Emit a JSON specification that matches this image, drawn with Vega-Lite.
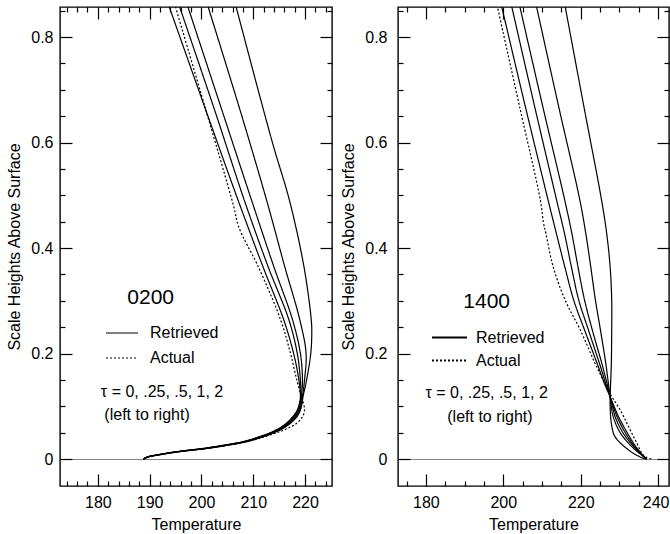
{
  "$schema": "https://vega.github.io/schema/vega-lite/v6.json",
  "padding": {"left": 6, "top": 1, "right": 0, "bottom": 0},
  "spacing": 6,
  "config": {
    "font": "Liberation Sans",
    "view": {"stroke": "black", "strokeWidth": 1.4},
    "axis": {"domain": false, "labelFont": "Liberation Sans", "titleFont": "Liberation Sans", "labelFontSize": 16, "titleFontSize": 16, "titleFontWeight": "normal", "labelColor": "black", "titleColor": "black", "tickColor": "black", "tickWidth": 1.2, "labelFlush": false, "labelOverlap": false, "grid": false}
  },
  "datasets": {
    "night": [
      {"s":"R1","type":"Retrieved","h":0,"T":188.8},{"s":"R1","type":"Retrieved","h":0.004,"T":189.5},{"s":"R1","type":"Retrieved","h":0.008,"T":191.4},{"s":"R1","type":"Retrieved","h":0.012,"T":193.8},{"s":"R1","type":"Retrieved","h":0.016,"T":196.7},{"s":"R1","type":"Retrieved","h":0.02,"T":200.1},{"s":"R1","type":"Retrieved","h":0.026,"T":204.1},{"s":"R1","type":"Retrieved","h":0.033,"T":207.9},{"s":"R1","type":"Retrieved","h":0.04,"T":210.4},{"s":"R1","type":"Retrieved","h":0.049,"T":213.0},{"s":"R1","type":"Retrieved","h":0.058,"T":214.9},{"s":"R1","type":"Retrieved","h":0.068,"T":216.4},{"s":"R1","type":"Retrieved","h":0.08,"T":217.6},{"s":"R1","type":"Retrieved","h":0.093,"T":218.5},{"s":"R1","type":"Retrieved","h":0.105,"T":218.9},{"s":"R1","type":"Retrieved","h":0.118,"T":219.1},{"s":"R1","type":"Retrieved","h":0.15,"T":218.8},{"s":"R1","type":"Retrieved","h":0.2,"T":217.8},{"s":"R1","type":"Retrieved","h":0.2635,"T":215.9},{"s":"R1","type":"Retrieved","h":0.364,"T":211.9},{"s":"R1","type":"Retrieved","h":0.49,"T":207.1},{"s":"R1","type":"Retrieved","h":0.66,"T":200.9},{"s":"R1","type":"Retrieved","h":0.857,"T":193.8},
      {"s":"R2","type":"Retrieved","h":0,"T":188.8},{"s":"R2","type":"Retrieved","h":0.004,"T":189.5},{"s":"R2","type":"Retrieved","h":0.008,"T":191.5},{"s":"R2","type":"Retrieved","h":0.012,"T":193.9},{"s":"R2","type":"Retrieved","h":0.016,"T":196.8},{"s":"R2","type":"Retrieved","h":0.02,"T":200.3},{"s":"R2","type":"Retrieved","h":0.026,"T":204.3},{"s":"R2","type":"Retrieved","h":0.033,"T":208.1},{"s":"R2","type":"Retrieved","h":0.04,"T":210.6},{"s":"R2","type":"Retrieved","h":0.049,"T":213.2},{"s":"R2","type":"Retrieved","h":0.058,"T":215.1},{"s":"R2","type":"Retrieved","h":0.068,"T":216.6},{"s":"R2","type":"Retrieved","h":0.08,"T":217.8},{"s":"R2","type":"Retrieved","h":0.093,"T":218.6},{"s":"R2","type":"Retrieved","h":0.105,"T":219.0},{"s":"R2","type":"Retrieved","h":0.118,"T":219.2},{"s":"R2","type":"Retrieved","h":0.15,"T":219.1},{"s":"R2","type":"Retrieved","h":0.2,"T":218.5},{"s":"R2","type":"Retrieved","h":0.2635,"T":216.9},{"s":"R2","type":"Retrieved","h":0.364,"T":212.9},{"s":"R2","type":"Retrieved","h":0.49,"T":208.3},{"s":"R2","type":"Retrieved","h":0.66,"T":202.6},{"s":"R2","type":"Retrieved","h":0.857,"T":195.8},
      {"s":"R3","type":"Retrieved","h":0,"T":188.8},{"s":"R3","type":"Retrieved","h":0.004,"T":189.6},{"s":"R3","type":"Retrieved","h":0.008,"T":191.6},{"s":"R3","type":"Retrieved","h":0.012,"T":194.0},{"s":"R3","type":"Retrieved","h":0.016,"T":197.0},{"s":"R3","type":"Retrieved","h":0.02,"T":200.5},{"s":"R3","type":"Retrieved","h":0.026,"T":204.5},{"s":"R3","type":"Retrieved","h":0.033,"T":208.3},{"s":"R3","type":"Retrieved","h":0.04,"T":210.8},{"s":"R3","type":"Retrieved","h":0.049,"T":213.4},{"s":"R3","type":"Retrieved","h":0.058,"T":215.3},{"s":"R3","type":"Retrieved","h":0.068,"T":216.8},{"s":"R3","type":"Retrieved","h":0.08,"T":218.0},{"s":"R3","type":"Retrieved","h":0.093,"T":218.8},{"s":"R3","type":"Retrieved","h":0.105,"T":219.1},{"s":"R3","type":"Retrieved","h":0.118,"T":219.3},{"s":"R3","type":"Retrieved","h":0.15,"T":219.5},{"s":"R3","type":"Retrieved","h":0.2,"T":219.1},{"s":"R3","type":"Retrieved","h":0.2635,"T":217.6},{"s":"R3","type":"Retrieved","h":0.364,"T":214.0},{"s":"R3","type":"Retrieved","h":0.49,"T":209.7},{"s":"R3","type":"Retrieved","h":0.66,"T":204.0},{"s":"R3","type":"Retrieved","h":0.857,"T":197.4},
      {"s":"R4","type":"Retrieved","h":0,"T":188.8},{"s":"R4","type":"Retrieved","h":0.004,"T":189.6},{"s":"R4","type":"Retrieved","h":0.008,"T":191.7},{"s":"R4","type":"Retrieved","h":0.012,"T":194.1},{"s":"R4","type":"Retrieved","h":0.016,"T":197.2},{"s":"R4","type":"Retrieved","h":0.02,"T":200.7},{"s":"R4","type":"Retrieved","h":0.026,"T":204.7},{"s":"R4","type":"Retrieved","h":0.033,"T":208.5},{"s":"R4","type":"Retrieved","h":0.04,"T":211.0},{"s":"R4","type":"Retrieved","h":0.049,"T":213.6},{"s":"R4","type":"Retrieved","h":0.058,"T":215.5},{"s":"R4","type":"Retrieved","h":0.068,"T":217.0},{"s":"R4","type":"Retrieved","h":0.08,"T":218.2},{"s":"R4","type":"Retrieved","h":0.093,"T":219.0},{"s":"R4","type":"Retrieved","h":0.105,"T":219.3},{"s":"R4","type":"Retrieved","h":0.118,"T":219.5},{"s":"R4","type":"Retrieved","h":0.15,"T":219.9},{"s":"R4","type":"Retrieved","h":0.2,"T":220.2},{"s":"R4","type":"Retrieved","h":0.2635,"T":219.0},{"s":"R4","type":"Retrieved","h":0.364,"T":216.1},{"s":"R4","type":"Retrieved","h":0.49,"T":212.6},{"s":"R4","type":"Retrieved","h":0.66,"T":207.5},{"s":"R4","type":"Retrieved","h":0.857,"T":201.3},
      {"s":"R5","type":"Retrieved","h":0,"T":188.8},{"s":"R5","type":"Retrieved","h":0.004,"T":189.7},{"s":"R5","type":"Retrieved","h":0.008,"T":191.8},{"s":"R5","type":"Retrieved","h":0.012,"T":194.2},{"s":"R5","type":"Retrieved","h":0.016,"T":197.4},{"s":"R5","type":"Retrieved","h":0.02,"T":200.9},{"s":"R5","type":"Retrieved","h":0.026,"T":204.9},{"s":"R5","type":"Retrieved","h":0.033,"T":208.7},{"s":"R5","type":"Retrieved","h":0.04,"T":211.2},{"s":"R5","type":"Retrieved","h":0.049,"T":213.8},{"s":"R5","type":"Retrieved","h":0.058,"T":215.7},{"s":"R5","type":"Retrieved","h":0.068,"T":217.2},{"s":"R5","type":"Retrieved","h":0.08,"T":218.4},{"s":"R5","type":"Retrieved","h":0.093,"T":219.1},{"s":"R5","type":"Retrieved","h":0.105,"T":219.4},{"s":"R5","type":"Retrieved","h":0.118,"T":219.6},{"s":"R5","type":"Retrieved","h":0.15,"T":220.3},{"s":"R5","type":"Retrieved","h":0.2,"T":221.1},{"s":"R5","type":"Retrieved","h":0.24,"T":221.3},{"s":"R5","type":"Retrieved","h":0.2635,"T":221.2},{"s":"R5","type":"Retrieved","h":0.364,"T":219.8},{"s":"R5","type":"Retrieved","h":0.49,"T":217.0},{"s":"R5","type":"Retrieved","h":0.6,"T":213.7},{"s":"R5","type":"Retrieved","h":0.857,"T":206.7},
      {"s":"A","type":"Actual","h":0,"T":189.0},{"s":"A","type":"Actual","h":0.004,"T":189.8},{"s":"A","type":"Actual","h":0.008,"T":191.8},{"s":"A","type":"Actual","h":0.012,"T":194.3},{"s":"A","type":"Actual","h":0.016,"T":197.4},{"s":"A","type":"Actual","h":0.02,"T":200.8},{"s":"A","type":"Actual","h":0.026,"T":205.0},{"s":"A","type":"Actual","h":0.033,"T":208.8},{"s":"A","type":"Actual","h":0.04,"T":211.4},{"s":"A","type":"Actual","h":0.049,"T":214.2},{"s":"A","type":"Actual","h":0.055,"T":215.9},{"s":"A","type":"Actual","h":0.061,"T":217.2},{"s":"A","type":"Actual","h":0.068,"T":218.4},{"s":"A","type":"Actual","h":0.08,"T":219.5},{"s":"A","type":"Actual","h":0.093,"T":219.9},{"s":"A","type":"Actual","h":0.105,"T":219.7},{"s":"A","type":"Actual","h":0.118,"T":219.3},{"s":"A","type":"Actual","h":0.15,"T":218.4},{"s":"A","type":"Actual","h":0.2,"T":217.2},{"s":"A","type":"Actual","h":0.2635,"T":215.3},{"s":"A","type":"Actual","h":0.364,"T":211.0},{"s":"A","type":"Actual","h":0.44,"T":207.2},{"s":"A","type":"Actual","h":0.48,"T":206.2},{"s":"A","type":"Actual","h":0.66,"T":200.9},{"s":"A","type":"Actual","h":0.857,"T":195.0}
    ],
    "day": [
      {"s":"R1","type":"Retrieved","h":0,"T":237.0},{"s":"R1","type":"Retrieved","h":0.004,"T":236.4},{"s":"R1","type":"Retrieved","h":0.01,"T":235.7},{"s":"R1","type":"Retrieved","h":0.025,"T":234.1},{"s":"R1","type":"Retrieved","h":0.05,"T":232.0},{"s":"R1","type":"Retrieved","h":0.08,"T":229.8},{"s":"R1","type":"Retrieved","h":0.1,"T":228.6},{"s":"R1","type":"Retrieved","h":0.118,"T":227.6},{"s":"R1","type":"Retrieved","h":0.14,"T":226.3},{"s":"R1","type":"Retrieved","h":0.18,"T":224.3},{"s":"R1","type":"Retrieved","h":0.2445,"T":221.0},{"s":"R1","type":"Retrieved","h":0.301,"T":218.2},{"s":"R1","type":"Retrieved","h":0.364,"T":215.9},{"s":"R1","type":"Retrieved","h":0.428,"T":213.7},{"s":"R1","type":"Retrieved","h":0.49,"T":211.6},{"s":"R1","type":"Retrieved","h":0.665,"T":205.8},{"s":"R1","type":"Retrieved","h":0.857,"T":199.6},
      {"s":"R2","type":"Retrieved","h":0,"T":237.0},{"s":"R2","type":"Retrieved","h":0.004,"T":236.4},{"s":"R2","type":"Retrieved","h":0.01,"T":235.6},{"s":"R2","type":"Retrieved","h":0.025,"T":233.8},{"s":"R2","type":"Retrieved","h":0.05,"T":231.5},{"s":"R2","type":"Retrieved","h":0.08,"T":229.4},{"s":"R2","type":"Retrieved","h":0.1,"T":228.4},{"s":"R2","type":"Retrieved","h":0.118,"T":227.6},{"s":"R2","type":"Retrieved","h":0.14,"T":226.6},{"s":"R2","type":"Retrieved","h":0.18,"T":224.9},{"s":"R2","type":"Retrieved","h":0.2445,"T":222.0},{"s":"R2","type":"Retrieved","h":0.301,"T":219.5},{"s":"R2","type":"Retrieved","h":0.364,"T":217.6},{"s":"R2","type":"Retrieved","h":0.428,"T":215.8},{"s":"R2","type":"Retrieved","h":0.49,"T":213.8},{"s":"R2","type":"Retrieved","h":0.665,"T":208.2},{"s":"R2","type":"Retrieved","h":0.857,"T":202.2},
      {"s":"R3","type":"Retrieved","h":0,"T":237.0},{"s":"R3","type":"Retrieved","h":0.004,"T":236.4},{"s":"R3","type":"Retrieved","h":0.01,"T":235.5},{"s":"R3","type":"Retrieved","h":0.025,"T":233.5},{"s":"R3","type":"Retrieved","h":0.05,"T":230.9},{"s":"R3","type":"Retrieved","h":0.08,"T":228.9},{"s":"R3","type":"Retrieved","h":0.1,"T":228.2},{"s":"R3","type":"Retrieved","h":0.118,"T":227.6},{"s":"R3","type":"Retrieved","h":0.14,"T":226.9},{"s":"R3","type":"Retrieved","h":0.18,"T":225.5},{"s":"R3","type":"Retrieved","h":0.2445,"T":223.0},{"s":"R3","type":"Retrieved","h":0.301,"T":221.0},{"s":"R3","type":"Retrieved","h":0.364,"T":219.3},{"s":"R3","type":"Retrieved","h":0.428,"T":217.7},{"s":"R3","type":"Retrieved","h":0.49,"T":215.9},{"s":"R3","type":"Retrieved","h":0.665,"T":210.3},{"s":"R3","type":"Retrieved","h":0.857,"T":204.3},
      {"s":"R4","type":"Retrieved","h":0,"T":237.0},{"s":"R4","type":"Retrieved","h":0.004,"T":236.4},{"s":"R4","type":"Retrieved","h":0.01,"T":235.3},{"s":"R4","type":"Retrieved","h":0.025,"T":233.0},{"s":"R4","type":"Retrieved","h":0.05,"T":230.2},{"s":"R4","type":"Retrieved","h":0.08,"T":228.4},{"s":"R4","type":"Retrieved","h":0.1,"T":227.9},{"s":"R4","type":"Retrieved","h":0.118,"T":227.6},{"s":"R4","type":"Retrieved","h":0.14,"T":227.2},{"s":"R4","type":"Retrieved","h":0.18,"T":226.5},{"s":"R4","type":"Retrieved","h":0.2445,"T":225.1},{"s":"R4","type":"Retrieved","h":0.301,"T":223.8},{"s":"R4","type":"Retrieved","h":0.364,"T":222.6},{"s":"R4","type":"Retrieved","h":0.428,"T":221.3},{"s":"R4","type":"Retrieved","h":0.49,"T":219.8},{"s":"R4","type":"Retrieved","h":0.665,"T":214.4},{"s":"R4","type":"Retrieved","h":0.857,"T":208.6},
      {"s":"R5","type":"Retrieved","h":0,"T":236.8},{"s":"R5","type":"Retrieved","h":0.002,"T":236.0},{"s":"R5","type":"Retrieved","h":0.0057,"T":234.9},{"s":"R5","type":"Retrieved","h":0.01,"T":233.8},{"s":"R5","type":"Retrieved","h":0.02,"T":231.9},{"s":"R5","type":"Retrieved","h":0.03,"T":230.3},{"s":"R5","type":"Retrieved","h":0.042,"T":228.9},{"s":"R5","type":"Retrieved","h":0.05,"T":228.4},{"s":"R5","type":"Retrieved","h":0.074,"T":227.8},{"s":"R5","type":"Retrieved","h":0.1,"T":227.6},{"s":"R5","type":"Retrieved","h":0.118,"T":227.6},{"s":"R5","type":"Retrieved","h":0.14,"T":227.7},{"s":"R5","type":"Retrieved","h":0.18,"T":227.9},{"s":"R5","type":"Retrieved","h":0.2445,"T":228.0},{"s":"R5","type":"Retrieved","h":0.301,"T":228.0},{"s":"R5","type":"Retrieved","h":0.364,"T":227.6},{"s":"R5","type":"Retrieved","h":0.428,"T":226.7},{"s":"R5","type":"Retrieved","h":0.49,"T":225.4},{"s":"R5","type":"Retrieved","h":0.665,"T":220.9},{"s":"R5","type":"Retrieved","h":0.857,"T":216.0},
      {"s":"A","type":"Actual","h":0,"T":238.2},{"s":"A","type":"Actual","h":0.004,"T":236.8},{"s":"A","type":"Actual","h":0.011,"T":235.8},{"s":"A","type":"Actual","h":0.03,"T":234.5},{"s":"A","type":"Actual","h":0.049,"T":233.2},{"s":"A","type":"Actual","h":0.07,"T":231.8},{"s":"A","type":"Actual","h":0.093,"T":230.2},{"s":"A","type":"Actual","h":0.125,"T":227.5},{"s":"A","type":"Actual","h":0.18,"T":223.8},{"s":"A","type":"Actual","h":0.2445,"T":219.9},{"s":"A","type":"Actual","h":0.301,"T":216.0},{"s":"A","type":"Actual","h":0.364,"T":212.9},{"s":"A","type":"Actual","h":0.428,"T":211.0},{"s":"A","type":"Actual","h":0.447,"T":210.4},{"s":"A","type":"Actual","h":0.49,"T":209.6},{"s":"A","type":"Actual","h":0.665,"T":204.3},{"s":"A","type":"Actual","h":0.857,"T":198.5}
    ],
    "one": [{}]
  },
  "resolve": {"scale": {"strokeDash": "independent"}, "legend": {"strokeDash": "independent"}},
  "hconcat": [
    {
      "width": 272, "height": 479,
      "resolve": {"axis": {"x": "independent", "y": "independent"}},
      "layer": [
        {
          "data": {"name": "night"},
          "mark": {"type": "line", "color": "black", "strokeWidth": 1.2, "clip": true, "interpolate": "catmull-rom"},
          "encoding": {
            "x": {"field": "T", "type": "quantitative", "scale": {"domain": [172.7, 225.2], "nice": false, "zero": false},
              "axis": {"orient": "bottom", "title": "Temperature", "values": [174,176,178,180,182,184,186,188,190,192,194,196,198,200,202,204,206,208,210,212,214,216,218,220,222,224],
                "tickSize": {"condition": {"test": "datum.value % 10 === 0", "value": -12}, "value": -5},
                "labelExpr": "datum.value % 10 === 0 ? datum.label : ''", "labelPadding": 20, "titlePadding": -1}},
            "y": {"field": "h", "type": "quantitative", "scale": {"domain": [-0.051, 0.857], "nice": false, "zero": false},
              "axis": {"orient": "left", "title": "Scale Heights Above Surface", "format": ".1~f", "values": [0,0.05,0.1,0.15,0.2,0.25,0.3,0.35,0.4,0.45,0.5,0.55,0.6,0.65,0.7,0.75,0.8,0.85],
                "tickSize": {"condition": {"test": "round(datum.value*20) % 4 === 0", "value": -12}, "value": -5},
                "labelExpr": "round(datum.value*20) % 4 === 0 ? datum.label : ''", "labelPadding": 19, "titlePadding": 8,
                "grid": true, "gridColor": "#888888", "gridWidth": 1.2,
                "gridOpacity": {"condition": {"test": "datum.value === 0", "value": 1}, "value": 0}}},
            "detail": {"field": "s"},
            "order": {"field": "h"},
            "strokeDash": {"field": "type", "type": "nominal", "scale": {"domain": ["Retrieved", "Actual"], "range": [[1, 0], [2, 2]]},
              "legend": {"orient": "none", "legendX": 45, "legendY": 309, "title": null, "symbolType": "stroke", "symbolSize": 1024, "symbolStrokeColor": "black", "symbolStrokeWidth": 1.2, "labelFont": "Liberation Sans", "labelFontSize": 16, "labelColor": "black", "labelOffset": 11, "padding": 0, "rowPadding": 0}}
          }
        },
        {
          "data": {"name": "night"},
          "mark": {"type": "point", "opacity": 0},
          "encoding": {
            "x": {"field": "T", "type": "quantitative", "axis": {"orient": "top", "title": null, "labels": false, "values": [174,176,178,180,182,184,186,188,190,192,194,196,198,200,202,204,206,208,210,212,214,216,218,220,222,224],
              "tickSize": {"condition": {"test": "datum.value % 10 === 0", "value": -12}, "value": -5}}},
            "y": {"field": "h", "type": "quantitative", "axis": {"orient": "right", "title": null, "labels": false, "values": [0,0.05,0.1,0.15,0.2,0.25,0.3,0.35,0.4,0.45,0.5,0.55,0.6,0.65,0.7,0.75,0.8,0.85],
              "tickSize": {"condition": {"test": "round(datum.value*20) % 4 === 0", "value": -12}, "value": -5}}}
          }
        },
        {
          "data": {"name": "one"},
          "mark": {"type": "text", "fontSize": 21, "align": "center", "baseline": "middle", "color": "black"},
          "encoding": {"x": {"datum": 190.2, "axis": null}, "y": {"datum": 0.305, "axis": null}, "text": {"value": "0200"}}
        },
        {
          "data": {"name": "one"},
          "mark": {"type": "text", "fontSize": 16, "align": "center", "baseline": "middle", "color": "black"},
          "encoding": {"x": {"datum": 192.4, "axis": null}, "y": {"datum": 0.1276, "axis": null}, "text": {"value": "τ = 0, .25, .5, 1, 2"}}
        },
        {
          "data": {"name": "one"},
          "mark": {"type": "text", "fontSize": 16, "align": "center", "baseline": "middle", "color": "black"},
          "encoding": {"x": {"datum": 189.5, "axis": null}, "y": {"datum": 0.0834, "axis": null}, "text": {"value": "(left to right)"}}
        }
      ]
    },
    {
      "width": 271, "height": 479,
      "resolve": {"axis": {"x": "independent", "y": "independent"}},
      "layer": [
        {
          "data": {"name": "day"},
          "mark": {"type": "line", "color": "black", "strokeWidth": 1.2, "clip": true, "interpolate": "catmull-rom"},
          "encoding": {
            "x": {"field": "T", "type": "quantitative", "scale": {"domain": [172.8, 242.8], "nice": false, "zero": false},
              "axis": {"orient": "bottom", "title": "Temperature", "values": [175,180,185,190,195,200,205,210,215,220,225,230,235,240],
                "tickSize": {"condition": {"test": "datum.value % 20 === 0", "value": -12}, "value": -5},
                "labelOffset": {"condition": {"test": "datum.value === 240", "value": -2.5}, "value": 0},
                "labelExpr": "datum.value % 20 === 0 ? datum.label : ''", "labelPadding": 20, "titlePadding": -1}},
            "y": {"field": "h", "type": "quantitative", "scale": {"domain": [-0.051, 0.857], "nice": false, "zero": false},
              "axis": {"orient": "left", "title": "Scale Heights Above Surface", "format": ".1~f", "values": [0,0.05,0.1,0.15,0.2,0.25,0.3,0.35,0.4,0.45,0.5,0.55,0.6,0.65,0.7,0.75,0.8,0.85],
                "tickSize": {"condition": {"test": "round(datum.value*20) % 4 === 0", "value": -12}, "value": -5},
                "labelExpr": "round(datum.value*20) % 4 === 0 ? datum.label : ''", "labelPadding": 23, "titlePadding": 8,
                "grid": true, "gridColor": "#888888", "gridWidth": 1.2,
                "gridOpacity": {"condition": {"test": "datum.value === 0", "value": 1}, "value": 0}}},
            "detail": {"field": "s"},
            "order": {"field": "h"},
            "strokeDash": {"field": "type", "type": "nominal", "scale": {"domain": ["Retrieved", "Actual"], "range": [[1, 0], [2, 2]]},
              "legend": {"orient": "none", "legendX": 33, "legendY": 319, "title": null, "symbolType": "stroke", "symbolSize": 1225, "symbolStrokeColor": "black", "symbolStrokeWidth": 1.8, "labelFont": "Liberation Sans", "labelFontSize": 16, "labelColor": "black", "labelOffset": 8, "padding": 0, "rowPadding": 0, "clipHeight": 23}}
          }
        },
        {
          "data": {"name": "day"},
          "mark": {"type": "point", "opacity": 0},
          "encoding": {
            "x": {"field": "T", "type": "quantitative", "axis": {"orient": "top", "title": null, "labels": false, "values": [175,180,185,190,195,200,205,210,215,220,225,230,235,240],
              "tickSize": {"condition": {"test": "datum.value % 20 === 0", "value": -12}, "value": -5}}},
            "y": {"field": "h", "type": "quantitative", "axis": {"orient": "right", "title": null, "labels": false, "values": [0,0.05,0.1,0.15,0.2,0.25,0.3,0.35,0.4,0.45,0.5,0.55,0.6,0.65,0.7,0.75,0.8,0.85],
              "tickSize": {"condition": {"test": "round(datum.value*20) % 4 === 0", "value": -12}, "value": -5}}}
          }
        },
        {
          "data": {"name": "one"},
          "mark": {"type": "text", "fontSize": 21, "align": "center", "baseline": "middle", "color": "black"},
          "encoding": {"x": {"datum": 195.7, "axis": null}, "y": {"datum": 0.298, "axis": null}, "text": {"value": "1400"}}
        },
        {
          "data": {"name": "one"},
          "mark": {"type": "text", "fontSize": 16, "align": "center", "baseline": "middle", "color": "black"},
          "encoding": {"x": {"datum": 195.7, "axis": null}, "y": {"datum": 0.1245, "axis": null}, "text": {"value": "τ = 0, .25, .5, 1, 2"}}
        },
        {
          "data": {"name": "one"},
          "mark": {"type": "text", "fontSize": 16, "align": "center", "baseline": "middle", "color": "black"},
          "encoding": {"x": {"datum": 196.55, "axis": null}, "y": {"datum": 0.08, "axis": null}, "text": {"value": "(left to right)"}}
        }
      ]
    }
  ]
}
